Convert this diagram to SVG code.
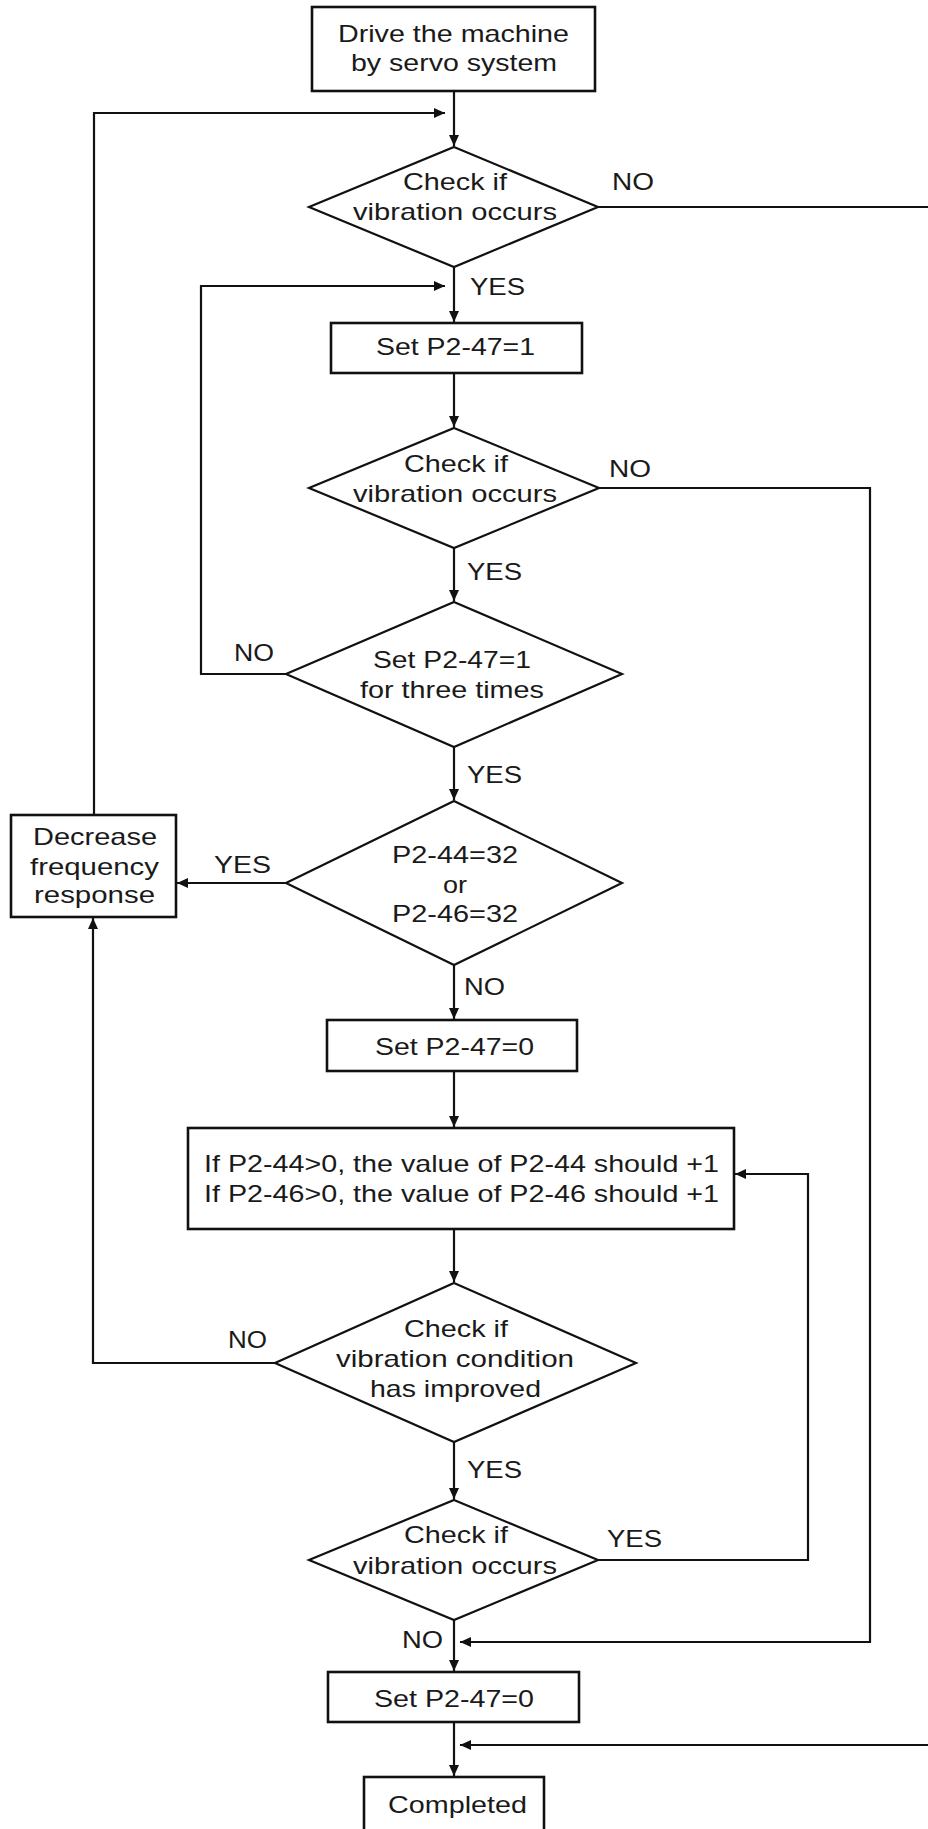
<svg xmlns="http://www.w3.org/2000/svg" width="928" height="1829" viewBox="0 0 928 1829">
<defs>
<marker id="ah" markerUnits="userSpaceOnUse" markerWidth="12" markerHeight="10" refX="11" refY="5" orient="auto">
<path d="M0,0 L11,5 L0,10 z" fill="#111"/>
</marker>
<style>
.box{fill:#fff;stroke:#111;stroke-width:2.6}
.dia{fill:#fff;stroke:#111;stroke-width:2.2}
.ln{fill:none;stroke:#111;stroke-width:2.2}
.ar{fill:none;stroke:#111;stroke-width:2.2;marker-end:url(#ah)}
text{font-family:"Liberation Sans",Arial,sans-serif;font-size:24px;fill:#1a1a1a}
</style>
</defs>
<rect width="928" height="1829" fill="#fff"/>
<g id="connectors">
<path class="ar" d="M454,91 V146"/>
<path class="ar" d="M94,815 V113 H445"/>
<path class="ar" d="M598,207 H940 V1745 H460"/>
<path class="ar" d="M454,267 V322"/>
<path class="ar" d="M286,674 H201 V286 H445"/>
<path class="ar" d="M454,373 V427"/>
<path class="ar" d="M599,488 H870 V1642 H460"/>
<path class="ar" d="M454,548 V601"/>
<path class="ar" d="M454,747 V800"/>
<path class="ar" d="M286,883 H177"/>
<path class="ar" d="M454,965 V1019"/>
<path class="ar" d="M454,1071 V1127"/>
<path class="ar" d="M454,1229 V1282"/>
<path class="ar" d="M275,1363 H93 V918"/>
<path class="ar" d="M454,1442 V1499"/>
<path class="ar" d="M598,1560 H808 V1174 H735"/>
<path class="ar" d="M454,1620 V1671"/>
<path class="ar" d="M454,1722 V1776"/>
<text x="612" y="190" textLength="42" lengthAdjust="spacingAndGlyphs">NO</text>
<text x="470" y="295" textLength="55" lengthAdjust="spacingAndGlyphs">YES</text>
<text x="609" y="477" textLength="42" lengthAdjust="spacingAndGlyphs">NO</text>
<text x="467" y="580" textLength="55" lengthAdjust="spacingAndGlyphs">YES</text>
<text x="234" y="661" textLength="40" lengthAdjust="spacingAndGlyphs">NO</text>
<text x="467" y="783" textLength="55" lengthAdjust="spacingAndGlyphs">YES</text>
<text x="214" y="873" textLength="57" lengthAdjust="spacingAndGlyphs">YES</text>
<text x="464" y="995" textLength="41" lengthAdjust="spacingAndGlyphs">NO</text>
<text x="228" y="1348" textLength="39" lengthAdjust="spacingAndGlyphs">NO</text>
<text x="467" y="1478" textLength="55" lengthAdjust="spacingAndGlyphs">YES</text>
<text x="607" y="1547" textLength="55" lengthAdjust="spacingAndGlyphs">YES</text>
<text x="402" y="1648" textLength="41" lengthAdjust="spacingAndGlyphs">NO</text>
</g>
<g id="start">
<rect class="box" x="312" y="7" width="283" height="84"/>
<text x="338" y="42" textLength="231" lengthAdjust="spacingAndGlyphs">Drive the machine</text>
<text x="351" y="71" textLength="206" lengthAdjust="spacingAndGlyphs">by servo system</text>
</g>
<g id="check1">
<polygon class="dia" points="454,147 598,207 454,267 309,207"/>
<text x="403" y="190" textLength="104" lengthAdjust="spacingAndGlyphs">Check if</text>
<text x="353" y="220" textLength="204" lengthAdjust="spacingAndGlyphs">vibration occurs</text>
</g>
<g id="set1">
<rect class="box" x="331" y="323" width="251" height="50"/>
<text x="376" y="355" textLength="159" lengthAdjust="spacingAndGlyphs">Set P2-47=1</text>
</g>
<g id="check2">
<polygon class="dia" points="454,428 599,488 454,548 309,488"/>
<text x="404" y="472" textLength="104" lengthAdjust="spacingAndGlyphs">Check if</text>
<text x="353" y="502" textLength="204" lengthAdjust="spacingAndGlyphs">vibration occurs</text>
</g>
<g id="three">
<polygon class="dia" points="454,602 622,674 454,747 286,674"/>
<text x="373" y="668" textLength="158" lengthAdjust="spacingAndGlyphs">Set P2-47=1</text>
<text x="360" y="698" textLength="184" lengthAdjust="spacingAndGlyphs">for three times</text>
</g>
<g id="p32">
<polygon class="dia" points="454,801 622,883 454,965 286,883"/>
<text x="392" y="863" textLength="126" lengthAdjust="spacingAndGlyphs">P2-44=32</text>
<text x="443" y="893" textLength="24" lengthAdjust="spacingAndGlyphs">or</text>
<text x="392" y="922" textLength="126" lengthAdjust="spacingAndGlyphs">P2-46=32</text>
</g>
<g id="decrease">
<rect class="box" x="11" y="815" width="165" height="102"/>
<text x="33" y="845" textLength="124" lengthAdjust="spacingAndGlyphs">Decrease</text>
<text x="30" y="875" textLength="129" lengthAdjust="spacingAndGlyphs">frequency</text>
<text x="34" y="903" textLength="121" lengthAdjust="spacingAndGlyphs">response</text>
</g>
<g id="set0a">
<rect class="box" x="327" y="1020" width="250" height="51"/>
<text x="375" y="1055" textLength="159" lengthAdjust="spacingAndGlyphs">Set P2-47=0</text>
</g>
<g id="increment">
<rect class="box" x="188" y="1128" width="546" height="101"/>
<text x="204" y="1172" textLength="515" lengthAdjust="spacingAndGlyphs">If P2-44&gt;0, the value of P2-44 should +1</text>
<text x="204" y="1202" textLength="515" lengthAdjust="spacingAndGlyphs">If P2-46&gt;0, the value of P2-46 should +1</text>
</g>
<g id="improved">
<polygon class="dia" points="454,1283 636,1363 454,1442 275,1363"/>
<text x="404" y="1337" textLength="104" lengthAdjust="spacingAndGlyphs">Check if</text>
<text x="336" y="1367" textLength="238" lengthAdjust="spacingAndGlyphs">vibration condition</text>
<text x="370" y="1397" textLength="171" lengthAdjust="spacingAndGlyphs">has improved</text>
</g>
<g id="check3">
<polygon class="dia" points="454,1500 598,1560 454,1620 309,1560"/>
<text x="404" y="1543" textLength="104" lengthAdjust="spacingAndGlyphs">Check if</text>
<text x="353" y="1574" textLength="204" lengthAdjust="spacingAndGlyphs">vibration occurs</text>
</g>
<g id="set0b">
<rect class="box" x="328" y="1672" width="251" height="50"/>
<text x="374" y="1707" textLength="160" lengthAdjust="spacingAndGlyphs">Set P2-47=0</text>
</g>
<g id="completed">
<rect class="box" x="364" y="1777" width="180" height="60"/>
<text x="388" y="1813" textLength="139" lengthAdjust="spacingAndGlyphs">Completed</text>
</g>
</svg>
